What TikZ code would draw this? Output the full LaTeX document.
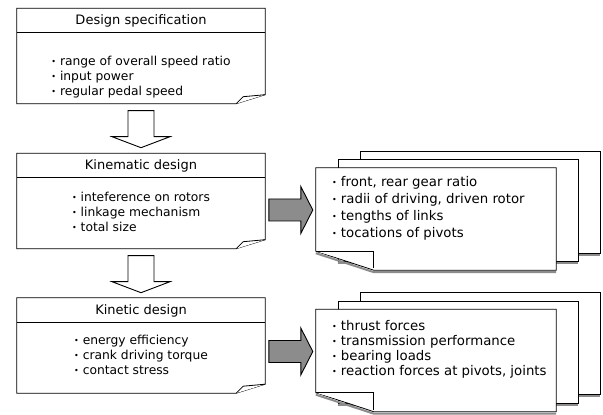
\documentclass[tikz,border=0pt]{standalone}
\usepackage{fontspec}
\setmainfont{DejaVu Sans}
\usetikzlibrary{positioning}

\newcommand{\itm}{\raisebox{0.2ex}{\footnotesize\textbullet}\ }

\begin{document}
\begin{tikzpicture}[
	x=1pt, y=1pt,
	stagebox/.style={minimum width=248pt, minimum height=95pt, inner sep=0pt},
	boxline/.style={draw, line width=0.8pt, fill=white},
	headrule/.style={line width=1.2pt},
	headtext/.style={font=\fontsize{13}{15}\selectfont},
	itemtext/.style={align=left, inner sep=0pt, font=\fontsize{12.3}{15}\selectfont},
	pagetext/.style={align=left, inner sep=0pt, anchor=west},
	pagebox/.style={draw, line width=0.8pt, fill=white, minimum width=240pt, minimum height=102pt, inner sep=0pt},
	frontpage/.style={minimum width=240pt, minimum height=102pt, inner sep=0pt},
	pageshade/.style={draw=black!45, line width=2pt},
	hollowarrow/.style={draw, line width=0.9pt, fill=white},
	grayarrow/.style={draw, line width=0.9pt, fill=black!45}
]
	\useasboundingbox (0,0) rectangle (603,415);

	% design stages
	\node[stagebox] (spec)  at (141,359)  {};
	\node[stagebox] (kin)   at (141,214)  {};
	\node[stagebox] (kinet) at (141,69.5) {};
	\foreach \b in {spec,kin,kinet} {
		\draw[boxline] (\b.north west) -- (\b.north east) -- ([yshift=9]\b.south east)
			-- ([xshift=-29]\b.south east) -- (\b.south west) -- cycle;
		\draw[boxline] ([xshift=-29]\b.south east) -- ([xshift=-22,yshift=7]\b.south east) -- ([yshift=9]\b.south east);
		\draw[headrule] ([yshift=-24.5]\b.north west) -- ([yshift=-24.5]\b.north east);
	}
	\node[headtext] (spechead)  at ([yshift=-13]spec.north)  {Design specification};
	\node[headtext] (kinhead)   at ([yshift=-13]kin.north)   {Kinematic design};
	\node[headtext] (kinethead) at ([yshift=-13]kinet.north) {Kinetic design};
	\node[itemtext] (specitems)  at ([yshift=-69]spec.north)
		{\itm range of overall speed ratio\\ \itm input power\\ \itm regular pedal speed};
	\node[itemtext] (kinitems)   at ([yshift=-59]kin.north)
		{\itm inteference on rotors\\ \itm linkage mechanism\\ \itm total size};
	\node[itemtext] (kinetitems) at ([yshift=-57]kinet.north)
		{\itm energy efficiency\\ \itm crank driving torque\\ \itm contact stress};

	% stacked result pages
	\coordinate (r1) at (436,196);
	\coordinate (r2) at (436,54.5);
	\foreach \r in {r1,r2} {
		\node[pagebox] (\r c) at ([shift={(44,17)}]\r) {};
		\draw[pageshade] ([yshift=-1.5]\r c.south west) -- ([yshift=-1.5]\r c.south east);
		\node[pagebox] (\r b) at ([shift={(22,8.5)}]\r) {};
		\draw[pageshade] ([yshift=-1.5]\r b.south west) -- ([yshift=-1.5]\r b.south east);
		\node[frontpage] (\r a) at (\r) {};
		\draw[pageshade] ([yshift=17]\r a.south west) -- ([xshift=58,yshift=-2]\r a.south west) -- ([yshift=-2]\r a.south east);
		\draw[boxline] (\r a.north west) -- (\r a.north east) -- (\r a.south east)
			-- ([xshift=58]\r a.south west) -- ([yshift=19]\r a.south west) -- cycle;
		\draw[boxline] ([yshift=19]\r a.south west) -- ([xshift=58,yshift=19]\r a.south west) -- ([xshift=58,yshift=2]\r a.south west);
	}
	\node[pagetext, font=\fontsize{13.3}{17}\selectfont] (geoitems) at ([xshift=16,yshift=10.5]r1a.west)
		{\itm front, rear gear ratio\\ \itm radii of driving, driven rotor\\ \itm tengths of links\\ \itm tocations of pivots};
	\node[pagetext, font=\fontsize{13.3}{15}\selectfont] (forceitems) at ([xshift=16,yshift=11]r2a.west)
		{\itm thrust forces\\ \itm transmission performance\\ \itm bearing loads\\ \itm reaction forces at pivots, joints};

	% arrows between stages
	\draw[hollowarrow] (spec.south) ++(-13,-7) -- ++(0,-26) -- ++(-16,0) -- ++(29,-11)
		-- ++(29,11) -- ++(-16,0) -- ++(0,26) -- cycle;
	\draw[hollowarrow] (kin.south) ++(-13,-7) -- ++(0,-26) -- ++(-16,0) -- ++(29,-11)
		-- ++(29,11) -- ++(-16,0) -- ++(0,26) -- cycle;
	\foreach \r in {r1a,r2a}
		\draw[grayarrow] (\r.west) ++(-47,20) -- ++(32,0) -- ++(0,12.5) -- ++(12,-23.5)
			-- ++(-12,-23.5) -- ++(0,12.5) -- ++(-32,0) -- cycle;
\end{tikzpicture}
\end{document}
